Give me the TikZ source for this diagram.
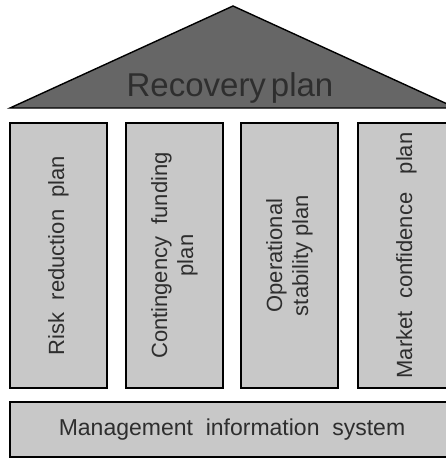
\documentclass[tikz,border=0pt]{standalone}
\usepackage{fontspec}
\setmainfont{Liberation Sans}
\definecolor{pillarfill}{HTML}{C8C8C8}
\definecolor{rooffill}{HTML}{666666}
\definecolor{txt}{HTML}{2E2E2E}
\tikzset{
  pillar/.style={draw=black, line width=1.6pt, fill=pillarfill, inner sep=0pt},
  vtext/.style={text=txt, rotate=90, align=center, font=\fontsize{22}{26}\selectfont},
}
\begin{document}
\begin{tikzpicture}[x=1pt,y=-1pt]
\useasboundingbox (0,0) rectangle (446,458);
\clip (0,0) rectangle (446,458);
\fill[white] (0,0) rectangle (446,458);
% roof
\draw[fill=rooffill, line width=1.4pt, line join=miter] (10,108) -- (233,6) -- (456,108) -- cycle;
\node[text=txt, font=\fontsize{33}{36}\selectfont, anchor=base] (roof) at (230,96) {Recovery\hspace{0.15em}plan};
% pillars
\draw[pillar] (10,123) rectangle (107,388);
\node[vtext] (p1) at (58.5,255.5) {Risk\ \ reduction\ \ plan};
\draw[pillar] (126,123) rectangle (223,388);
\node[vtext] (p2) at (174.5,255.5) {Contingency\ \ funding\\plan};
\draw[pillar] (241,123) rectangle (338,388);
\node[vtext] (p3) at (289.5,255.5) {Operational\\stability plan};
\draw[pillar] (358,123) rectangle (455,388);
\node[vtext] (p4) at (406.5,255.5) {Market\ \ confidence\ \ \ plan};
% base
\draw[pillar] (10,402) rectangle (456,457);
\node[text=txt, font=\fontsize{23}{26}\selectfont] (base) at (232,429.5) {Management\ \ information\ \ system};
\end{tikzpicture}
\end{document}
